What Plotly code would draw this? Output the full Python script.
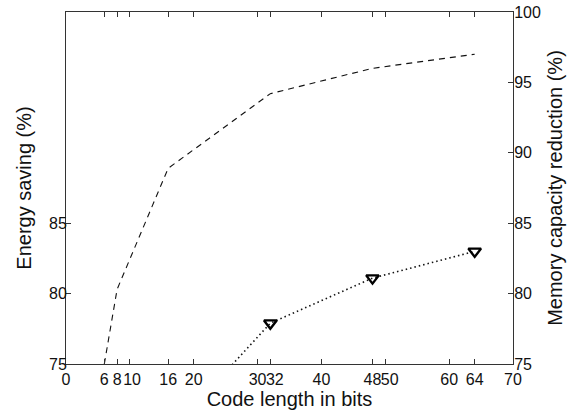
import plotly.graph_objects as go

code_length = [6, 8, 16, 32, 48, 64]
memory_reduction = [75.0, 80.3, 88.9, 94.2, 96.0, 97.0]
energy_bits = [16, 32, 48, 64]
energy_saving = [70.0, 77.9, 81.1, 83.0]
x_ticks = [0, 6, 8, 10, 16, 20, 30, 32, 40, 48, 50, 60, 64, 70]
x_tick_text = ["0", "6", "8", "\u00a010", "16", "20", "30", "\u00a0\u00a032",
               "40", "48", "\u00a0\u00a050", "60", "64", "70"]
left_ticks = [75, 80, 85]
right_ticks = [75, 80, 85, 90, 95, 100]

font = "Liberation Sans, Arial, sans-serif"

fig = go.Figure()
fig.add_trace(go.Scatter(
    x=code_length, y=memory_reduction, mode="lines", yaxis="y2",
    line=dict(color="#111", width=1.1, dash="6px,5px"), showlegend=False))
fig.add_trace(go.Scatter(
    x=energy_bits, y=energy_saving, mode="lines+markers", yaxis="y",
    line=dict(color="#111", width=1.6, dash="1.5px,3px"),
    marker=dict(symbol="triangle-down-open", size=11, color="#000",
                line=dict(width=2.4, color="#000")),
    showlegend=False))

axis_common = dict(showgrid=False, zeroline=False, showline=True, automargin=False,
                   linecolor="#333", linewidth=1, ticks="inside", ticklen=5,
                   tickcolor="#333", tickangle=0,
                   tickfont=dict(family=font, size=16, color="#111"))

fig.update_layout(
    width=581, height=414,
    margin=dict(l=66, r=68, t=12, b=50),
    plot_bgcolor="white", paper_bgcolor="white",
    font=dict(family=font, color="#111"),
    xaxis=dict(range=[0, 70], tickvals=x_ticks, ticktext=x_tick_text,
               mirror="ticks", ticklabelstandoff=1,
               title=dict(text="Code length in bits", font=dict(family=font, size=20), standoff=2),
               **axis_common),
    yaxis=dict(range=[75, 100], tickvals=left_ticks, ticklabelstandoff=-5,
               title=dict(text="Energy saving (%)", font=dict(family=font, size=20), standoff=12),
               **axis_common),
    yaxis2=dict(range=[75, 100], tickvals=right_ticks, overlaying="y", side="right",
                ticklabelstandoff=-3,
                title=dict(text="Memory capacity reduction (%)", font=dict(family=font, size=20), standoff=8),
                **axis_common),
)

fig.write_html("out.html")
